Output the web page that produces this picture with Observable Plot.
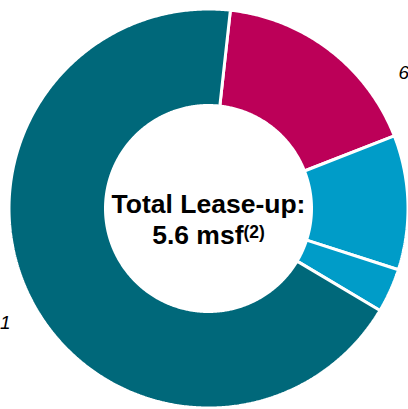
<!DOCTYPE html>
<html>
<head>
<meta charset="utf-8">
<script src="https://cdn.jsdelivr.net/npm/d3@7"></script>
<script src="https://cdn.jsdelivr.net/npm/@observablehq/plot@0.6"></script>
<style>
  html, body { margin: 0; padding: 0; background: #fff; overflow: hidden; }
  #chart svg { display: block; }
</style>
</head>
<body>
<div id="chart"></div>
<script>
// ---- Data (msf of lease-up by segment) ----
const categories = ["Segment A", "Segment B", "Segment C", "Segment D"];
const values = [0.97, 0.61, 0.20, 3.82];
const colors = ["#BC0058", "#009CC8", "#009CC8", "#00687A"];
const centerLines = ["Total Lease-up:", "5.6 msf"];
const centerNote = "(2)";
const sideLabels = ["6", "1"];

// ---- Layout ----
const W = 408, H = 409;
const cx = 208, cy = 208, R = 199.5;
const inner = 103 / R;
const startDeg = 6.3;

const pie = d3.pie().sort(null).value(d => d.value)
  .startAngle(startDeg * Math.PI / 180)
  .endAngle((startDeg + 360) * Math.PI / 180);
const arcs = pie(categories.map((c, i) => ({cat: c, value: values[i]})));

const pts = [];
for (const a of arcs) {
  const n = Math.max(4, Math.ceil((a.endAngle - a.startAngle) * 180 / Math.PI * 2));
  for (let k = 0; k <= n; k++) {
    const t = a.startAngle + (a.endAngle - a.startAngle) * k / n;
    pts.push({cat: a.data.cat, x: Math.sin(t), y: Math.cos(t)});
  }
  for (let k = n; k >= 0; k--) {
    const t = a.startAngle + (a.endAngle - a.startAngle) * k / n;
    pts.push({cat: a.data.cat, x: inner * Math.sin(t), y: inner * Math.cos(t)});
  }
}

const font = "'Liberation Sans', Arial, Helvetica, sans-serif";

const plot = Plot.plot({
  width: W, height: H,
  margin: 0,
  x: {domain: [-cx / R, (W - cx) / R], axis: null},
  y: {domain: [-(H - cy) / R, cy / R], axis: null},
  color: {domain: categories, range: colors},
  style: {fontFamily: font, background: "white"},
  marks: [
    Plot.line(pts, {
      x: "x", y: "y", z: "cat", fill: "cat",
      stroke: "white", strokeWidth: 3, curve: "linear-closed", strokeLinejoin: "miter"
    }),
    Plot.text([centerLines[0]], {
      x: [0], y: [0], text: d => d, dy: 4, lineAnchor: "bottom",
      textAnchor: "middle", fontSize: 26.5, fontWeight: "bold", fill: "#000"
    }),
    Plot.text([centerLines[1]], {
      x: [0], y: [0], text: d => d, dy: 35, lineAnchor: "bottom",
      textAnchor: "middle", fontSize: 26.5, fontWeight: "bold", fill: "#000"
    }),
    Plot.text([sideLabels[0]], {
      x: [(398 - cx) / R], y: [(cy - 78) / R], text: d => d, lineAnchor: "bottom",
      textAnchor: "start", fontSize: 19, fontStyle: "italic", fill: "#000"
    }),
    Plot.text([sideLabels[1]], {
      x: [(10 - cx) / R], y: [(cy - 328) / R], text: d => d, lineAnchor: "bottom",
      textAnchor: "end", fontSize: 19, fontStyle: "italic", fill: "#000"
    })
  ]
});

// superscript note on the second center line
d3.select(plot).selectAll("text").each(function() {
  if (this.textContent === centerLines[1]) {
    d3.select(this).append("tspan")
      .attr("dy", "-6")
      .attr("font-size", 17.5)
      .text(centerNote);
  }
});

document.getElementById("chart").appendChild(plot);
</script>
</body>
</html>
